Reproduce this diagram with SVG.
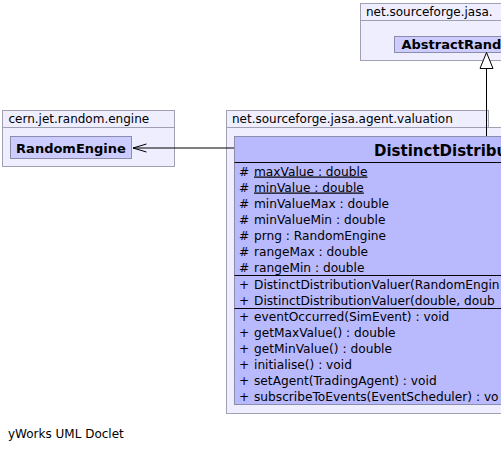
<svg xmlns="http://www.w3.org/2000/svg" width="501" height="451" viewBox="0 0 501 451">
<style>
text{font-family:"DejaVu Sans",Verdana,sans-serif;font-size:12px;fill:#000}
.m{font-size:12.2px}
.pkg{fill:#eeeeff;stroke:#a0a0b4;stroke-width:1}
.cls{fill:#b9b9fd;stroke:#8c8cac;stroke-width:1}
.ref{fill:#ccccff;stroke:#8c8cac;stroke-width:1}
.b{font-weight:bold;font-size:13px}
.t{font-weight:bold;font-size:15px}
.sep{stroke:#000;stroke-width:1}
.u{text-decoration:underline}
</style>
<rect width="501" height="451" fill="#ffffff"/>
<g id="pkg-cern">
<rect class="pkg" x="2.5" y="110.5" width="172" height="17"/>
<rect class="pkg" x="2.5" y="127.5" width="172" height="39"/>
<text x="8.5" y="123">cern.jet.random.engine</text>
</g>
<g id="pkg-top">
<rect class="pkg" x="360.5" y="3.5" width="160" height="17"/>
<rect class="pkg" x="360.5" y="20.5" width="160" height="40"/>
<text x="366" y="16">net.sourceforge.jasa.</text>
</g>
<g id="pkg-valuation">
<rect class="pkg" x="226.5" y="110.5" width="262" height="17"/>
<rect class="pkg" x="226.5" y="127.5" width="290" height="286"/>
<text x="232" y="123">net.sourceforge.jasa.agent.valuation</text>
</g>
<g id="RandomEngine">
<rect class="ref" x="10.5" y="136.5" width="121" height="22"/>
<text class="b" x="71" y="152.5" text-anchor="middle">RandomEngine</text>
</g>
<g id="AbstractRand">
<rect class="ref" x="394.5" y="36.5" width="130" height="16"/>
<text class="b" x="401.5" y="49">AbstractRand</text>
</g>
<g id="DistinctDistributionValuer">
<rect class="cls" x="234.5" y="136.5" width="300" height="268"/>
<text class="t" x="374" y="155.5">DistinctDistribu</text>
<line class="sep" x1="234.5" y1="162.5" x2="501" y2="162.5"/>
<line class="sep" x1="234.5" y1="275.5" x2="501" y2="275.5"/>
<line class="sep" x1="234.5" y1="308.5" x2="501" y2="308.5"/>
<g class="m">
<text class="m" x="239" y="175.5">#</text><text class="m u" x="254" y="175.5">maxValue : double</text>
<text class="m" x="239" y="191.5">#</text><text class="m u" x="254" y="191.5">minValue : double</text>
<text class="m" x="239" y="207.5">#</text><text class="m" x="254" y="207.5">minValueMax : double</text>
<text class="m" x="239" y="223.5">#</text><text class="m" x="254" y="223.5">minValueMin : double</text>
<text class="m" x="239" y="239.5">#</text><text class="m" x="254" y="239.5">prng : RandomEngine</text>
<text class="m" x="239" y="255.5">#</text><text class="m" x="254" y="255.5">rangeMax : double</text>
<text class="m" x="239" y="271.5">#</text><text class="m" x="254" y="271.5">rangeMin : double</text>
</g>
<g>
<text class="m" x="239" y="288.5">+</text><text class="m" x="254" y="288.5">DistinctDistributionValuer(RandomEngin</text>
<text class="m" x="239" y="304.5">+</text><text class="m" x="254" y="304.5">DistinctDistributionValuer(double, doub</text>
</g>
<g>
<text class="m" x="239" y="321">+</text><text class="m" x="254" y="321">eventOccurred(SimEvent) : void</text>
<text class="m" x="239" y="337">+</text><text class="m" x="254" y="337">getMaxValue() : double</text>
<text class="m" x="239" y="353">+</text><text class="m" x="254" y="353">getMinValue() : double</text>
<text class="m" x="239" y="369">+</text><text class="m" x="254" y="369">initialise() : void</text>
<text class="m" x="239" y="385">+</text><text class="m" x="254" y="385">setAgent(TradingAgent) : void</text>
<text class="m" x="239" y="401">+</text><text class="m" x="254" y="401">subscribeToEvents(EventScheduler) : vo</text>
</g>
</g>
<g id="connectors" fill="none" stroke="#000" stroke-width="1">
<line x1="234" y1="148" x2="133" y2="148"/>
<polyline points="146.5,144 133,148 146.5,152"/>
<line x1="486.5" y1="136" x2="486.5" y2="68.5"/>
<polygon points="486.5,52.5 480,68.5 493,68.5" fill="#ffffff"/>
</g>
<text x="8" y="438">yWorks UML Doclet</text>
</svg>
